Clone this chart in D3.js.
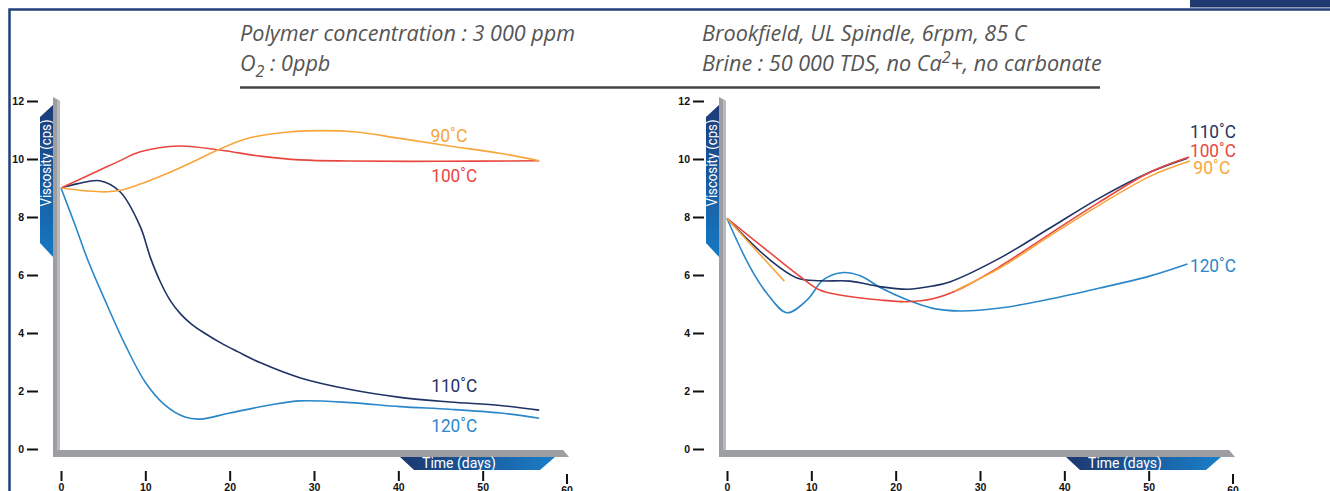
<!DOCTYPE html>
<html>
<head>
<meta charset="utf-8">
<script src="https://d3js.org/d3.v7.min.js"></script>
<style>
  body { margin: 0; background: #fff; }
  svg { display: block; font-family: Roboto, sans-serif; }
  .tick text { font-size: 10.5px; font-weight: 700; fill: #111; }
  .tick line { stroke: #111; stroke-width: 2; }
</style>
</head>
<body>
<svg id="chart" width="1330" height="491"></svg>
<script>
// ---- data (days, viscosity in cps) ----
var tempLabels = ["90˚C", "100˚C", "110˚C", "120˚C"];
var yTicks = [0, 2, 4, 6, 8, 10, 12];
var xTicks = [0, 10, 20, 30, 40, 50, 60];

// left panel
var l90Days  = [0, 3, 5.5, 7.5, 10, 13, 16, 18.5, 22, 27, 31, 35, 40, 46, 52, 56.7];
var l90Vals  = [9.0, 8.9, 8.87, 8.95, 9.2, 9.55, 9.95, 10.3, 10.7, 10.93, 10.98, 10.93, 10.72, 10.45, 10.2, 9.94];
var l100Days = [0, 4.6, 7.2, 9.4, 14, 19, 23.6, 28.4, 34, 45, 56.7];
var l100Vals = [9.0, 9.62, 9.97, 10.25, 10.45, 10.3, 10.1, 9.97, 9.93, 9.92, 9.94];
var l110Days = [0, 2, 4.6, 7, 9.4, 10.6, 11.8, 13, 14.2, 15.5, 17, 19, 21, 23.6, 28.4, 34.3, 40.2, 46.1, 52.1, 56.7];
var l110Vals = [9.0, 9.15, 9.25, 8.87, 7.67, 6.6, 5.75, 5.1, 4.65, 4.3, 4.0, 3.65, 3.35, 2.98, 2.45, 2.05, 1.78, 1.62, 1.5, 1.34];
var l120Days = [0, 1.7, 3.2, 5.2, 7.6, 10, 12.3, 14.7, 16.5, 20, 24.8, 28.4, 34.3, 40.2, 46.1, 52.1, 56.7];
var l120Vals = [9.0, 7.7, 6.5, 5.14, 3.6, 2.3, 1.52, 1.1, 1.03, 1.24, 1.52, 1.66, 1.6, 1.46, 1.37, 1.24, 1.06];

// right panel (90 line has a gap: null)
var r90Days  = [0, 6.8, null, 27, 32.4, 38.3, 44.2, 50.2, 54.9];
var r90Vals  = [7.95, 5.79, null, 5.45, 6.25, 7.35, 8.42, 9.41, 9.93];
var r100Days = [0, 4.7, 8.7, 11, 13.4, 18.1, 21.4, 24.4, 27.5, 32.4, 38.3, 44.2, 50.2, 54.8];
var r100Vals = [7.95, 6.86, 5.94, 5.48, 5.31, 5.14, 5.08, 5.18, 5.5, 6.3, 7.42, 8.52, 9.55, 10.07];
var r110Days = [0, 5.1, 8.3, 11, 14.6, 18.1, 21.4, 24.4, 26.5, 32.4, 38.3, 44.2, 50.2, 54.6];
var r110Vals = [7.95, 6.52, 5.9, 5.8, 5.79, 5.6, 5.51, 5.62, 5.77, 6.59, 7.62, 8.66, 9.55, 10.03];
var r120Days = [0, 2.7, 4.7, 7.1, 9.5, 11.4, 13.6, 15.8, 18.1, 21.4, 24.4, 27.6, 32.4, 38.3, 44.2, 50.2, 54.6];
var r120Vals = [7.95, 6.29, 5.38, 4.7, 5.14, 5.83, 6.08, 5.97, 5.58, 5.14, 4.85, 4.76, 4.86, 5.17, 5.55, 5.97, 6.38];

// label anchors (day, value) for 90,100,110,120
var lLabelDays = [43.8, 43.9, 43.9, 43.9];
var lLabelVals = [10.59, 9.21, 1.97, 0.59];
var rLabelDays = [55.3, 54.9, 54.9, 54.9];
var rLabelVals = [9.48, 10.07, 10.72, 6.1];

var colors = ["#f8a53c", "#e8473f", "#1e3264", "#2a87c9"];

var svg = d3.select("#chart");
var W = 1330, H = 491;

// gradients
var defs = svg.append("defs");
var vg = defs.append("linearGradient").attr("id", "vband")
    .attr("x1", 0).attr("y1", 0).attr("x2", 0).attr("y2", 1);
vg.append("stop").attr("offset", "0%").attr("stop-color", "#1d3b78");
vg.append("stop").attr("offset", "100%").attr("stop-color", "#1579c4");
var hg = defs.append("linearGradient").attr("id", "hband")
    .attr("x1", 0).attr("y1", 0).attr("x2", 1).attr("y2", 0);
hg.append("stop").attr("offset", "0%").attr("stop-color", "#1c376f");
hg.append("stop").attr("offset", "100%").attr("stop-color", "#1a7fca");

// frame
svg.append("rect").attr("x", 1190).attr("y", 0).attr("width", W - 1190).attr("height", 7.5).attr("fill", "#1e3a70");
svg.append("path").attr("d", "M9.5," + H + " L9.5,9.5 L" + W + ",9.5")
    .attr("fill", "none").attr("stroke", "#22407c").attr("stroke-width", 2.5);

// header
var head = svg.append("g").attr("font-family", "'Open Sans', sans-serif")
    .attr("font-style", "italic").attr("font-size", 21.6).attr("fill", "#555");
head.append("text").attr("x", 240).attr("y", 41).text("Polymer concentration : 3 000 ppm");
var t2 = head.append("text").attr("x", 240).attr("y", 71);
t2.append("tspan").text("O");
t2.append("tspan").attr("font-size", 16).attr("dy", 6).text("2");
t2.append("tspan").attr("dy", -6).text(" : 0ppb");
head.append("text").attr("x", 702).attr("y", 41).text("Brookfield, UL Spindle, 6rpm, 85 C");
var t4 = head.append("text").attr("x", 702).attr("y", 71);
t4.append("tspan").text("Brine : 50 000 TDS, no Ca");
t4.append("tspan").attr("font-size", 16).attr("dy", -8).text("2");
t4.append("tspan").attr("dy", 8).text("+, no carbonate");
svg.append("line").attr("x1", 240).attr("x2", 1100).attr("y1", 87.5).attr("y2", 87.5)
    .attr("stroke", "#444").attr("stroke-width", 2.5);

function zip(a, b) { return a.map(function (d, i) { return [d, b[i]]; }); }

function drawPanel(left, series, labDays, labVals) {
    var x = d3.scaleLinear([0, 60], [left, left + 506]);
    var y = d3.scaleLinear([0, 12], [449, 101]);
    var g = svg.append("g");
    var bx = x(0), by = y(0), top = y(12), end = x(60);

    // viscosity banner
    g.append("path")
        .attr("d", "M" + (bx - 8) + "," + (top + 4) + " L" + (bx - 21) + "," + (top + 16) +
            " L" + (bx - 21) + "," + (top + 142) + " L" + (bx - 8) + "," + (top + 156) + " Z")
        .attr("fill", "url(#vband)");
    g.append("text")
        .attr("transform", "translate(" + (bx - 10) + "," + (top + 62) + ") rotate(-90)")
        .attr("text-anchor", "middle").attr("font-size", 14).attr("fill", "#fff")
        .attr("textLength", 87).attr("lengthAdjust", "spacingAndGlyphs")
        .text("Viscosity (cps)");

    // grey L axis
    g.append("path")
        .attr("d", "M" + (bx - 8) + "," + (top - 4) + " L" + (bx - 1) + "," + top +
            " L" + (bx - 1) + "," + (by + 1) + " L" + (end - 4) + "," + (by + 1) +
            " L" + (end + 2) + "," + (by + 8) + " L" + (bx - 8) + "," + (by + 8) + " Z")
        .attr("fill", "#9d9ea2");
    g.append("path")
        .attr("d", "M" + (bx - 4) + "," + (top - 2) + " L" + (bx - 1) + "," + top +
            " L" + (bx - 1) + "," + (by + 1) + " L" + (bx - 4) + "," + (by + 1) + " Z")
        .attr("fill", "#b9babd");

    // time banner
    g.append("path")
        .attr("d", "M" + (end - 167) + "," + (by + 8) + " L" + (end - 12) + "," + (by + 8) +
            " L" + (end - 27) + "," + (by + 21) + " L" + (end - 153) + "," + (by + 21) + " Z")
        .attr("fill", "url(#hband)");
    g.append("text").attr("x", end - 108).attr("y", by + 18.5)
        .attr("text-anchor", "middle").attr("font-size", 14).attr("fill", "#fff")
        .text("Time (days)");

    // axes
    var ya = g.append("g").attr("transform", "translate(" + (bx - 23) + ",0)")
        .call(d3.axisLeft(y).tickValues(yTicks).tickSize(11).tickPadding(3));
    ya.select(".domain").remove();
    var xa = g.append("g").attr("transform", "translate(0,471)")
        .call(d3.axisBottom(x).tickValues(xTicks).tickSize(10).tickPadding(3));
    xa.select(".domain").remove();
    xa.selectAll(".tick").filter(function (d) { return d === 60; })
        .attr("transform", "translate(" + x(60) + ",3)");

    // lines
    var line = d3.line()
        .defined(function (d) { return d[0] != null; })
        .x(function (d) { return x(d[0]); })
        .y(function (d) { return y(d[1]); })
        .curve(d3.curveCatmullRom.alpha(0.5));
    [3, 2, 1, 0].forEach(function (i) {
        g.append("path").datum(series[i]).attr("d", line)
            .attr("fill", "none").attr("stroke", colors[i]).attr("stroke-width", 1.6);
    });

    // labels
    tempLabels.forEach(function (t, i) {
        g.append("text").attr("x", x(labDays[i])).attr("y", y(labVals[i]))
            .attr("font-size", 19).attr("fill", colors[i])
            .attr("textLength", t.length === 4 ? 37 : 46).attr("lengthAdjust", "spacingAndGlyphs")
            .text(t);
    });
}

drawPanel(61,
    [zip(l90Days, l90Vals), zip(l100Days, l100Vals), zip(l110Days, l110Vals), zip(l120Days, l120Vals)],
    lLabelDays, lLabelVals);
drawPanel(727,
    [zip(r90Days, r90Vals), zip(r100Days, r100Vals), zip(r110Days, r110Vals), zip(r120Days, r120Vals)],
    rLabelDays, rLabelVals);
</script>
</body>
</html>
